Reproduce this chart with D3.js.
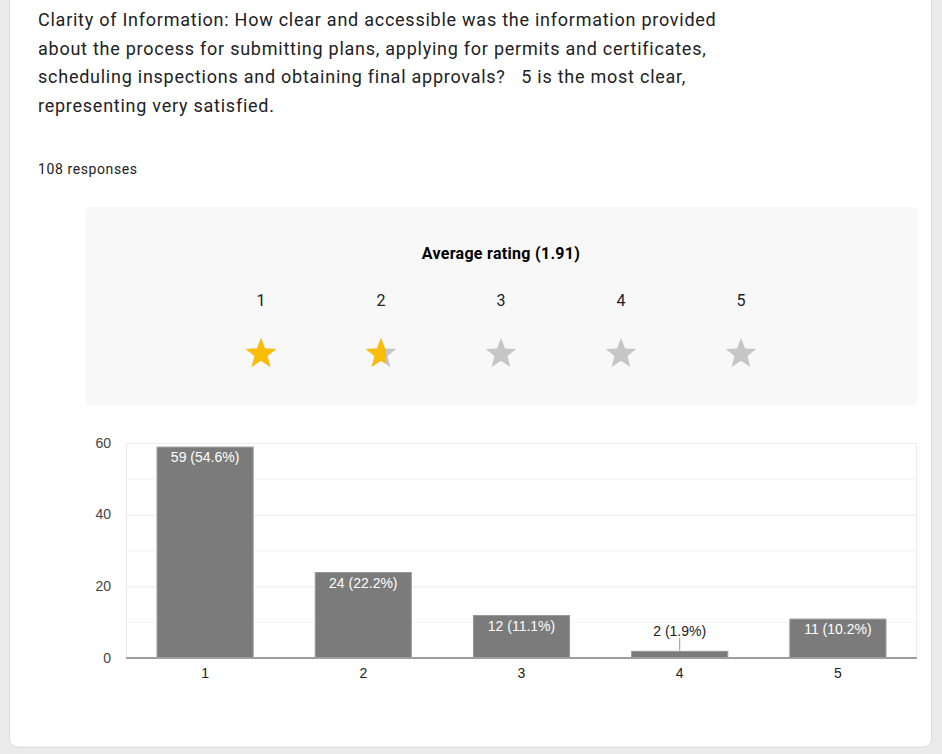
<!DOCTYPE html>
<meta charset="utf-8">
<script src="https://d3js.org/d3.v7.min.js"></script>
<style>
  body { margin: 0; background: #ebebeb; }
  svg { display: block; }
</style>
<body>
<div id="chart"></div>
<script>

    // Data
    var titleLines = [
        "Clarity of Information: How clear and accessible was the information provided",
        "about the process for submitting plans, applying for permits and certificates,",
        "scheduling inspections and obtaining final approvals?   5 is the most clear,",
        "representing very satisfied."
    ];
    var ratings = ["1", "2", "3", "4", "5"];
    var counts = [59, 24, 12, 2, 11];
    var yTicks = [0, 20, 40, 60];
    var yGrid = [10, 20, 30, 40, 50, 60];

    var W = 942, H = 754;
    var total = d3.sum(counts);
    var average = d3.sum(counts, function(d, i) { return d * (i + 1); }) / total;

    var svg = d3.select("#chart")
        .append("svg")
        .attr("width", W)
        .attr("height", H);

    // card
    svg.append("rect")
        .attr("x", 9.5).attr("y", -20)
        .attr("width", 922).attr("height", 767)
        .attr("rx", 8)
        .style("fill", "#fff")
        .style("stroke", "#dadce0");

    // question title
    svg.append("g").selectAll("text")
        .data(titleLines)
        .enter()
        .append("text")
        .attr("x", 38)
        .attr("y", function(d, i) { return 26 + i * 28.7; })
        .style("font-family", "Roboto")
        .style("font-size", "18px")
        .style("letter-spacing", "0.75px")
        .style("fill", "#202124")
        .style("white-space", "pre")
        .text(function(d) { return d; });

    svg.append("text")
        .attr("x", 38).attr("y", 174)
        .style("font-family", "Roboto")
        .style("font-size", "14px")
        .style("letter-spacing", "0.6px")
        .style("fill", "#202124")
        .text(total + " responses");

    // average rating panel
    svg.append("rect")
        .attr("x", 86).attr("y", 207)
        .attr("width", 831).attr("height", 199)
        .attr("rx", 4)
        .style("fill", "#f8f8f8");

    svg.append("text")
        .attr("x", 501).attr("y", 259)
        .attr("text-anchor", "middle")
        .style("font-family", "Roboto")
        .style("font-weight", "bold")
        .style("font-size", "16px")
        .style("letter-spacing", "0.3px")
        .style("fill", "#000")
        .text("Average rating (" + average.toFixed(2) + ")");

    var sx = d3.scalePoint()
        .domain(ratings)
        .range([261, 741]);

    svg.append("g").selectAll("text")
        .data(ratings)
        .enter()
        .append("text")
        .attr("x", function(d) { return sx(d); })
        .attr("y", 306)
        .attr("text-anchor", "middle")
        .style("font-family", "Roboto")
        .style("font-size", "16px")
        .style("fill", "#202124")
        .text(function(d) { return d; });

    // star shape
    var R = 16, r = 6.8;
    var starPts = d3.range(10).map(function(i) {
        var a = -Math.PI / 2 + i * Math.PI / 5;
        var rad = i % 2 ? r : R;
        return [rad * Math.cos(a), rad * Math.sin(a)];
    });
    var starPath = "M" + starPts.join("L") + "Z";
    var starY = 354;

    // visible split of the partial star, as drawn in the picture
    var partialFill = 0.66;

    var defs = svg.append("defs");
    ratings.forEach(function(d, i) {
        var fill = Math.max(0, Math.min(1, average - i));
        if (fill > 0 && fill < 1) fill = partialFill;
        defs.append("clipPath").attr("id", "clip" + i)
            .append("rect")
            .attr("x", -R).attr("y", -R)
            .attr("width", 2 * R * 0.951 * fill + R * (1 - 0.951) * (fill > 0 ? 1 : 0))
            .attr("height", 2 * R);
        var g = svg.append("g")
            .attr("transform", "translate(" + sx(d) + "," + starY + ")");
        g.append("path").attr("d", starPath).style("fill", "#c6c6c6");
        g.append("path").attr("d", starPath)
            .attr("clip-path", "url(#clip" + i + ")")
            .style("fill", "#fbbc04");
    });

    // bar chart
    var plot = {left: 126, right: 917, top: 443, bottom: 658};

    var x = d3.scaleBand()
        .domain(ratings)
        .range([plot.left, plot.right])
        .paddingInner(0.386)
        .paddingOuter(0.193);

    var y = d3.scaleLinear()
        .domain([0, 60])
        .range([plot.bottom, plot.top]);

    // grid
    svg.append("g").selectAll("line")
        .data(yGrid)
        .enter()
        .append("line")
        .attr("x1", plot.left).attr("x2", plot.right)
        .attr("y1", function(d) { return y(d) + 0.5; })
        .attr("y2", function(d) { return y(d) + 0.5; })
        .style("stroke", function(d) { return d % 20 === 0 ? "#ebebeb" : "#f4f4f4"; });

    svg.append("line")
        .attr("x1", plot.left + 0.5).attr("x2", plot.left + 0.5)
        .attr("y1", plot.top).attr("y2", plot.bottom)
        .style("stroke", "#ebebeb");
    svg.append("line")
        .attr("x1", plot.right - 0.5).attr("x2", plot.right - 0.5)
        .attr("y1", plot.top).attr("y2", plot.bottom)
        .style("stroke", "#ebebeb");

    // y labels
    svg.append("g").selectAll("text")
        .data(yTicks)
        .enter()
        .append("text")
        .attr("x", 111)
        .attr("y", function(d) { return y(d) + 4.5; })
        .attr("text-anchor", "end")
        .style("font-family", "Liberation Sans, Arial")
        .style("font-size", "14px")
        .style("fill", "#444")
        .text(function(d) { return d; });

    // bars
    svg.append("g").selectAll("rect")
        .data(counts)
        .enter()
        .append("rect")
        .attr("x", function(d, i) { return x(ratings[i]) + 0.5; })
        .attr("y", function(d) { return y(d) + 0.5; })
        .attr("width", x.bandwidth() - 1)
        .attr("height", function(d) { return y(0) - y(d) - 1; })
        .style("fill", "#7b7b7b")
        .style("stroke", "#999");

    // baseline
    svg.append("line")
        .attr("x1", plot.left).attr("x2", plot.right)
        .attr("y1", y(0)).attr("y2", y(0))
        .style("stroke", "#9e9e9e")
        .style("stroke-width", 2);

    // bar annotations
    counts.forEach(function(d, i) {
        var cx = x(ratings[i]) + x.bandwidth() / 2;
        var label = d + " (" + (d / total * 100).toFixed(1) + "%)";
        var inside = y(0) - y(d) > 20;
        if (!inside) {
            svg.append("line")
                .attr("x1", cx).attr("x2", cx)
                .attr("y1", y(d) - 13).attr("y2", y(d))
                .style("stroke", "#999");
        }
        svg.append("text")
            .attr("x", cx)
            .attr("y", inside ? y(d) + 15.5 : y(d) - 15)
            .attr("text-anchor", "middle")
            .style("font-family", "Liberation Sans, Arial")
            .style("font-size", "14px")
            .style("fill", inside ? "#fff" : "#222")
            .text(label);
    });

    // x labels
    svg.append("g").selectAll("text")
        .data(ratings)
        .enter()
        .append("text")
        .attr("x", function(d) { return x(d) + x.bandwidth() / 2; })
        .attr("y", 678)
        .attr("text-anchor", "middle")
        .style("font-family", "Liberation Sans, Arial")
        .style("font-size", "14px")
        .style("fill", "#222")
        .text(function(d) { return d; });

</script>
</body>
